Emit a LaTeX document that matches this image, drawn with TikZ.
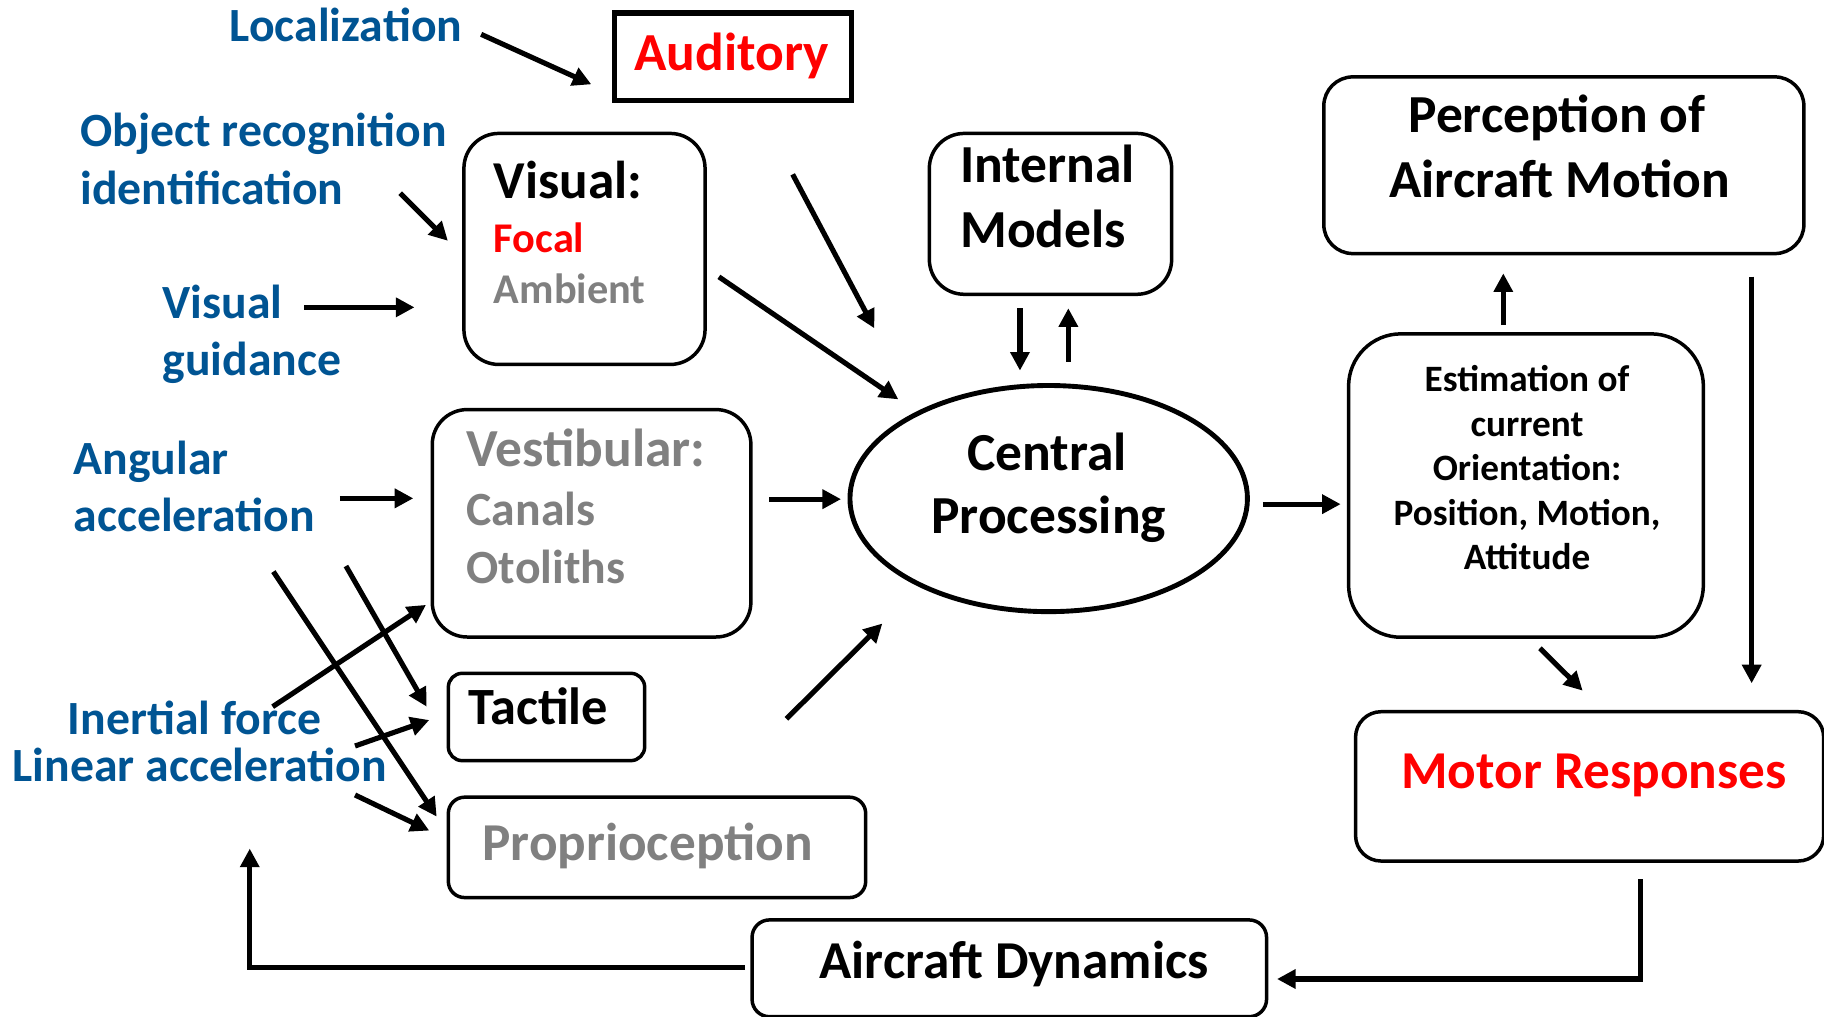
\documentclass[tikz,border=0pt]{standalone}
\usepackage{fontspec}
\setmainfont{Carlito}
\usetikzlibrary{arrows.meta,shapes.geometric}
\definecolor{lblblue}{RGB}{0,84,147}
\definecolor{txtgray}{RGB}{128,128,128}
\definecolor{txtred}{RGB}{255,0,0}
\begin{document}
\begin{tikzpicture}[x=1pt,y=-1pt,
  box/.style={draw=black,line width=3pt,rounded corners=#1,inner sep=0pt,anchor=north west},
  txt/.style={inner sep=0pt,font=\bfseries\fontsize{#1}{#1}\selectfont},
  lbl/.style={txt=41,text=lblblue,anchor=base west},
  arr/.style={line width=4.4pt,-{Triangle[length=16pt,width=16pt]}},
]
\useasboundingbox (0,0) rectangle (1568,874);

% ---------- boxes ----------
\node[draw=black,line width=4.5pt,inner sep=0pt,anchor=north west,minimum width=204pt,minimum height=75pt] (aud) at (526,9) {};
\node[box=30pt,minimum width=207.3pt,minimum height=198.6pt] (vis) at (397.3,113.2) {};
\node[box=30pt,minimum width=273.9pt,minimum height=195.5pt] (ves) at (370.1,350.6) {};
\node[box=12pt,minimum width=168.8pt,minimum height=75.1pt] (tac) at (383.9,577.3) {};
\node[box=14pt,minimum width=358.8pt,minimum height=86.3pt] (pro) at (383.9,683.8) {};
\node[box=30pt,minimum width=208.3pt,minimum height=138.3pt] (im) at (797.4,113.2) {};
\node[box=25pt,minimum width=412.7pt,minimum height=151.9pt] (per) at (1136.5,64.6) {};
\node[box=45pt,minimum width=305pt,minimum height=260.8pt] (est) at (1157.8,285.5) {};
\node[box=22pt,minimum width=402.4pt,minimum height=128.4pt] (mot) at (1163.8,610.3) {};
\node[box=15pt,minimum width=442.3pt,minimum height=83.2pt] (ad) at (645,789.3) {};
\node[draw=black,line width=4.2pt,ellipse,inner sep=0pt,minimum width=341.7pt,minimum height=194.4pt] (cp) at (901.5,428.6) {};

% ---------- texts ----------
\node[lbl] (tloc) at (197.4,35.8) {Localization};
\node[lbl] (tobj1) at (69.1,126.1) {Object recognition};
\node[lbl] (tobj2) at (69.1,175.4) {identification};
\node[lbl] (tvg1) at (139.7,273.6) {Visual};
\node[lbl] (tvg2) at (139.7,323.2) {guidance};
\node[lbl] (tang1) at (63.2,408.1) {Angular};
\node[lbl] (tang2) at (63.2,457.2) {acceleration};
\node[lbl] (tin1) at (58.2,631.4) {Inertial force};
\node[lbl] (tin2) at (10.8,671.4) {Linear acceleration};

\node[txt=46,text=txtred,anchor=base west] (taud) at (545.3,60.8) {Auditory};
\node[txt=45.8,anchor=base west] (tvis1) at (424.4,170.5) {Visual:};
\node[txt=36.4,text=txtred,anchor=base west] (tvis2) at (424.4,216.9) {Focal};
\node[txt=36.4,text=txtgray,anchor=base west] (tvis3) at (424.4,260.7) {Ambient};
\node[txt=46,text=txtgray,anchor=base west] (tves1) at (401,401.4) {Vestibular:};
\node[txt=41,text=txtgray,anchor=base west] (tves2) at (401,452.1) {Canals};
\node[txt=41,text=txtgray,anchor=base west] (tves3) at (401,501.2) {Otoliths};
\node[txt=45,anchor=base west] (ttac) at (402.6,623) {Tactile};
\node[txt=45.8,text=txtgray,anchor=base west] (tpro) at (414.5,739.6) {Proprioception};
\node[txt=46,anchor=base west] (tim1) at (825.3,157) {Internal};
\node[txt=46,anchor=base west] (tim2) at (825.3,212.4) {Models};
\node[txt=46,anchor=base] (tcp1) at (900,404.5) {Central};
\node[txt=46,anchor=base] (tcp2) at (901.5,458.9) {Processing};
\node[txt=46,anchor=base] (tper1) at (1338.5,113.9) {Perception of};
\node[txt=46,anchor=base] (tper2) at (1340.7,170) {Aircraft Motion};
\node[txt=32,anchor=base] (test1) at (1312.7,336.5) {Estimation of};
\node[txt=32,anchor=base] (test2) at (1312.7,375.6) {current};
\node[txt=32,anchor=base] (test3) at (1312.7,413) {Orientation:};
\node[txt=32,anchor=base] (test4) at (1312.7,452.1) {Position, Motion,};
\node[txt=32,anchor=base] (test5) at (1312.7,489.5) {Attitude};
\node[txt=45.8,text=txtred,anchor=base west] (tmot) at (1204.5,677.7) {Motor Responses};
\node[txt=45.8,anchor=base west] (tad) at (704.3,841) {Aircraft Dynamics};

% ---------- connector end points ----------
\coordinate (a1s) at (413.6,29.5);   \coordinate (a1e) at (508.3,72.5);
\coordinate (a2s) at (344,166);      \coordinate (a2e) at (385,207);
\coordinate (a3s) at (261.6,264.2);  \coordinate (a3e) at (356.3,264.2);
\coordinate (a4s) at (681.4,149.9);  \coordinate (a4e) at (751.6,282.2);
\coordinate (a5s) at (618,238);      \coordinate (a5e) at (772.2,343.3);
\coordinate (a6s) at (876.8,265);    \coordinate (a6e) at (876.8,318.6);
\coordinate (a7s) at (918.4,310.9);  \coordinate (a7e) at (918.4,265);
\coordinate (a8s) at (292.1,428.4);  \coordinate (a8e) at (355.3,428.4);
\coordinate (a9s) at (661.3,429.1);  \coordinate (a9e) at (723,429.1);
\coordinate (a10s) at (1085.7,433.4); \coordinate (a10e) at (1152.5,433.4);
\coordinate (a11s) at (1292.3,279.4); \coordinate (a11e) at (1292.3,235);
\coordinate (a12s) at (1505.8,237.8); \coordinate (a12e) at (1505.8,587.4);
\coordinate (a13s) at (1323.8,557.3); \coordinate (a13e) at (1360.5,593.7);
\coordinate (a14s) at (1410.2,755.9); \coordinate (a14e) at (1097.8,841.6);
\coordinate (a15s) at (640.5,831.7);  \coordinate (a15e) at (214.7,729.5);
\coordinate (a16s) at (676.1,617.9);  \coordinate (a16e) at (758.5,536);
\coordinate (a17s) at (235,491.4);    \coordinate (a17e) at (375.4,702);
\coordinate (a18s) at (297.4,486.6);  \coordinate (a18e) at (366.8,607.5);
\coordinate (a19s) at (234.4,607.5);  \coordinate (a19e) at (366.2,520);
\coordinate (a20s) at (305.2,641.3);  \coordinate (a20e) at (369,619);
\coordinate (a21s) at (305.2,683.4);  \coordinate (a21e) at (369,714);

% ---------- connectors ----------
\draw[arr] (a1s) -- (a1e);
\draw[arr] (a2s) -- (a2e);
\draw[arr] (a3s) -- (a3e);
\draw[arr] (a4s) -- (a4e);
\draw[arr] (a5s) -- (a5e);
\draw[arr] (a6s) -- (a6e);
\draw[arr] (a7s) -- (a7e);
\draw[arr] (a8s) -- (a8e);
\draw[arr] (a9s) -- (a9e);
\draw[arr] (a10s) -- (a10e);
\draw[arr] (a11s) -- (a11e);
\draw[arr] (a12s) -- (a12e);
\draw[arr] (a13s) -- (a13e);
\draw[arr] (a14s) |- (a14e);
\draw[arr] (a15s) -| (a15e);
\draw[arr] (a16s) -- (a16e);
\draw[arr] (a17s) -- (a17e);
\draw[arr] (a18s) -- (a18e);
\draw[arr] (a19s) -- (a19e);
\draw[arr] (a20s) -- (a20e);
\draw[arr] (a21s) -- (a21e);
\end{tikzpicture}
\end{document}
